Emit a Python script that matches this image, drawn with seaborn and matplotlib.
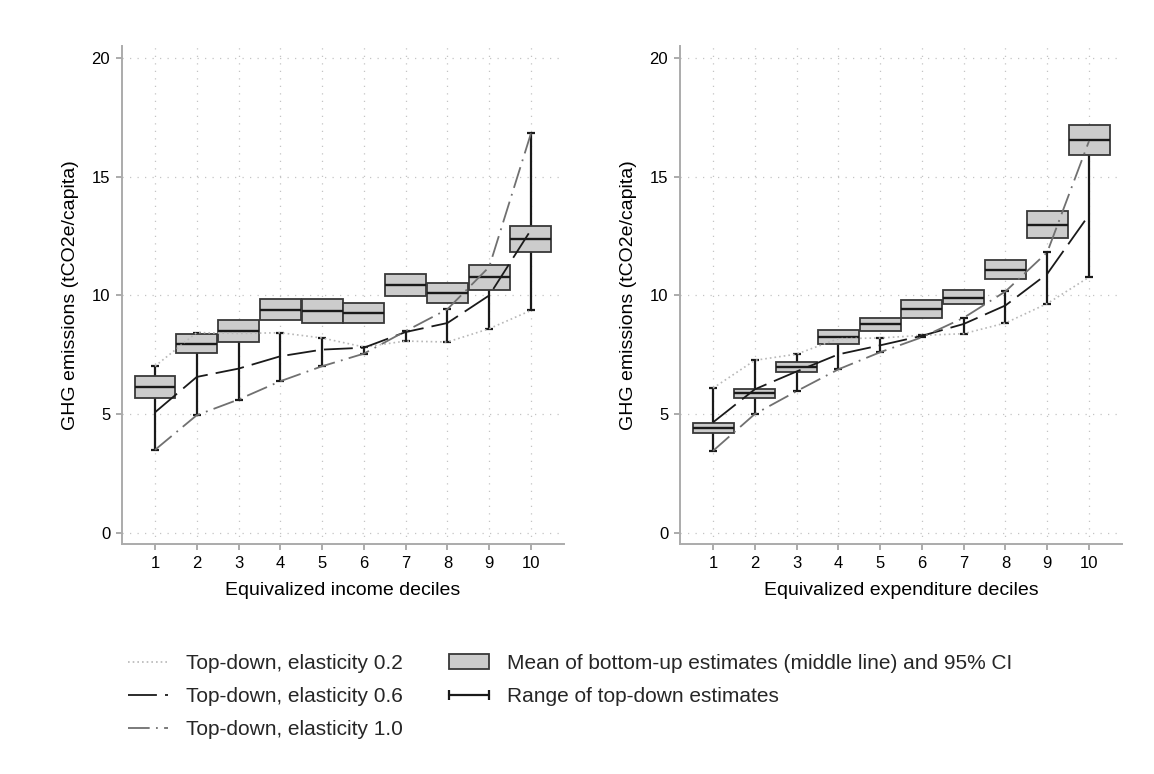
import numpy as np
import matplotlib.pyplot as plt
from matplotlib.lines import Line2D
from matplotlib.patches import Patch
from matplotlib.legend_handler import HandlerLine2D
import seaborn as sns

sns.set_theme(style="white")
plt.rcParams['font.family'] = ['Liberation Sans', 'DejaVu Sans']

deciles = np.arange(1, 11)

# income deciles (left panel)
inc_e02 = np.array([7.02, 8.44, 8.40, 8.43, 8.21, 7.83, 8.08, 8.04, 8.60, 9.37])
inc_e06 = np.array([5.08, 6.57, 6.92, 7.44, 7.72, 7.80, 8.46, 8.84, 10.00, 12.76])
inc_e10 = np.array([3.50, 4.96, 5.62, 6.39, 7.02, 7.55, 8.50, 9.42, 11.20, 16.82])
inc_lo = np.array([5.67, 7.58, 8.02, 8.95, 8.84, 8.85, 9.96, 9.69, 10.21, 11.81])
inc_mean = np.array([6.13, 7.94, 8.50, 9.40, 9.33, 9.27, 10.43, 10.11, 10.78, 12.37])
inc_hi = np.array([6.60, 8.36, 8.98, 9.84, 9.86, 9.69, 10.90, 10.52, 11.30, 12.91])

# expenditure deciles (right panel)
exp_e02 = np.array([6.10, 7.27, 7.53, 8.18, 8.21, 8.32, 8.39, 8.84, 9.66, 10.77])
exp_e06 = np.array([4.66, 6.05, 6.80, 7.52, 7.90, 8.30, 8.80, 9.58, 10.91, 13.39])
exp_e10 = np.array([3.46, 5.01, 5.97, 6.89, 7.61, 8.24, 9.06, 10.17, 11.82, 16.50])
exp_lo = np.array([4.19, 5.69, 6.76, 7.97, 8.49, 9.05, 9.66, 10.70, 12.41, 15.92])
exp_mean = np.array([4.42, 5.88, 6.99, 8.25, 8.81, 9.41, 9.90, 11.07, 12.98, 16.55])
exp_hi = np.array([4.63, 6.08, 7.20, 8.56, 9.06, 9.79, 10.21, 11.48, 13.54, 17.17])

grey_axis = '#ababab'
box_face = '#cccccc'
box_edge = '#383838'
dark = '#1a1a1a'
st02 = dict(color='#b8b8b8', linestyle=(0, (1, 1.8)), linewidth=1.2)
st06 = dict(color=dark, linestyle=(0, (16, 4.5)), linewidth=1.3)
st10 = dict(color='#707070', linestyle=(0, (12, 3.5, 1, 3.5)), linewidth=1.3)


def panel(ax, e02, e06, e10, lo, mean, hi, xlabel):
    rng_lo = np.minimum(np.minimum(e02, e06), e10)
    rng_hi = np.maximum(np.maximum(e02, e06), e10)
    ax.errorbar(deciles, (rng_lo + rng_hi) / 2, yerr=(rng_hi - rng_lo) / 2, fmt='none',
                ecolor=dark, elinewidth=1.6, capsize=3.2, capthick=1.6, zorder=2)
    ax.bar(deciles, hi - lo, bottom=lo, width=0.98, color=box_face,
           edgecolor=box_edge, linewidth=1.3, zorder=3)
    ax.hlines(mean, deciles - 0.49, deciles + 0.49, color=dark, linewidth=1.7, zorder=3.5)
    sns.lineplot(x=deciles, y=e02, ax=ax, estimator=None, sort=False, zorder=4, **st02)
    sns.lineplot(x=deciles, y=e06, ax=ax, estimator=None, sort=False, zorder=4, **st06)
    sns.lineplot(x=deciles, y=e10, ax=ax, estimator=None, sort=False, zorder=4, **st10)

    ax.set_xlim(0.21, 10.79)
    ax.set_ylim(-0.46, 20.5)
    ax.set_xticks(deciles)
    ax.set_yticks([0, 5, 10, 15, 20])
    ax.set_axisbelow(True)
    ax.grid(True, color='#c4c4c4', linestyle=(0, (1, 5)), linewidth=0.9)
    sns.despine(ax=ax)
    for s in ['left', 'bottom']:
        ax.spines[s].set_color(grey_axis)
        ax.spines[s].set_linewidth(1.4)
    ax.tick_params(axis='both', bottom=True, left=True, length=4.5, width=1.4,
                   color=grey_axis, labelsize=12, pad=4, labelcolor='black')
    ax.set_xlabel(xlabel, fontsize=14, labelpad=8, color='black')
    ax.set_ylabel('GHG emissions (tCO2e/capita)', fontsize=14, labelpad=9, color='black')


fig = plt.figure(figsize=(11.54, 7.74), dpi=100)
ax1 = fig.add_axes([0.1057, 0.2972, 0.383, 0.6434])
ax2 = fig.add_axes([0.5893, 0.2972, 0.383, 0.6434])

panel(ax1, inc_e02, inc_e06, inc_e10, inc_lo, inc_mean, inc_hi, 'Equivalized income deciles')
panel(ax2, exp_e02, exp_e06, exp_e10, exp_lo, exp_mean, exp_hi, 'Equivalized expenditure deciles')

h02 = Line2D([], [], **st02)
h06 = Line2D([], [], **st06)
h10 = Line2D([], [], **st10)
hbox = Patch(facecolor=box_face, edgecolor=box_edge, linewidth=1.3)
hrng = Line2D([], [], color=dark, linewidth=1.6, marker='|', markersize=7, markeredgewidth=1.6)

fig.legend([h02, h06, h10, hbox, hrng],
           ['Top-down, elasticity 0.2', 'Top-down, elasticity 0.6', 'Top-down, elasticity 1.0',
            'Mean of bottom-up estimates (middle line) and 95% CI', 'Range of top-down estimates'],
           handler_map={hrng: HandlerLine2D(numpoints=2, marker_pad=0)},
           loc='upper left', bbox_to_anchor=(128 / 1154, 1 - 654 / 774), ncol=2,
           frameon=False, fontsize=15, handlelength=1.9, handletextpad=0.9,
           columnspacing=2.2, labelspacing=0.68, borderpad=0, borderaxespad=0)

fig.savefig('out.png', dpi=100)
